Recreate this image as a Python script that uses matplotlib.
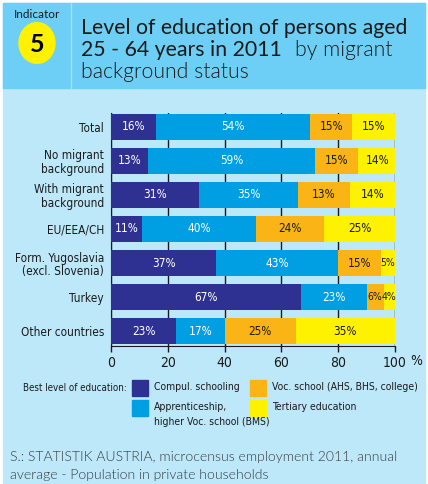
import numpy as np
import matplotlib.pyplot as plt
from matplotlib.patches import Rectangle, Circle

categories = ["Total", "No migrant\nbackground", "With migrant\nbackground", "EU/EEA/CH",
              "Form. Yugoslavia\n(excl. Slovenia)", "Turkey", "Other countries"]
series_names = ["Compul. schooling", "Apprenticeship,\nhigher Voc. school (BMS)",
                "Voc. school (AHS, BHS, college)", "Tertiary education"]
# bar widths as drawn in the chart (percent)
compul = [16, 13, 31, 11, 37, 67, 23]
appren = [54, 59, 35, 40, 43, 23, 17]
voc = [15, 15, 18, 24, 15, 6, 25]
tertiary = [15, 14, 16, 25, 5, 4, 35]
# labels as printed on the bars
lab_compul = ["16%", "13%", "31%", "11%", "37%", "67%", "23%"]
lab_appren = ["54%", "59%", "35%", "40%", "43%", "23%", "17%"]
lab_voc = ["15%", "15%", "13%", "24%", "15%", "6%", "25%"]
lab_tertiary = ["15%", "14%", "14%", "25%", "5%", "4%", "35%"]
xticks = [0, 20, 40, 60, 80, 100]

colors = ["#2e3192", "#009fe3", "#fbb415", "#fff200"]
txt_colors = ["white", "white", "#1a1a1a", "#1a1a1a"]
header_c = "#6dcff6"
bg_c = "#bde8fa"

narrow = dict(family="DejaVu Sans", stretch="condensed")
title_f = "Lato"

fig = plt.figure(figsize=(4.28, 4.84), dpi=100)
W, H = 428, 484


def fx(px):
    return px / W


def fy(py):
    return 1 - py / H


fig.patches.append(Rectangle((fx(3), 0), fx(422), fy(3), transform=fig.transFigure,
                             color=bg_c, zorder=-3))
fig.patches.append(Rectangle((fx(3), fy(88)), fx(422), fy(3) - fy(88), transform=fig.transFigure,
                             color=header_c, zorder=-2))
fig.lines.append(plt.Line2D([fx(71), fx(71)], [fy(88), fy(3)], transform=fig.transFigure,
                            color="#a8e0f7", lw=1, zorder=-1))
fig.patches.append(Circle((fx(37), fy(43)), 18 / W, transform=fig.transFigure,
                          color="#fff200", zorder=-1))
fig.text(fx(37), fy(14), "Indicator", ha="center", va="center", fontsize=8.5,
         family=title_f, color="#1a1a1a")
fig.text(fx(37), fy(44), "5", ha="center", va="center", fontsize=18,
         family=title_f, fontweight="bold", color="black")
tsize = 15.3
fig.text(fx(81), fy(28), "Level of education of persons aged", ha="left", va="center",
         fontsize=tsize, family=title_f, color="#1a1a1a")
fig.text(fx(81), fy(50), "25 - 64 years in 2011", ha="left", va="center",
         fontsize=tsize, family=title_f, color="#1a1a1a")
fig.text(fx(295), fy(50), "by migrant", ha="left", va="center",
         fontsize=tsize, family=title_f, fontweight=300, color="#1a1a1a")
fig.text(fx(81), fy(72), "background status", ha="left", va="center",
         fontsize=tsize, family=title_f, fontweight=300, color="#1a1a1a")

ax = fig.add_axes([fx(111), fy(346), fx(395) - fx(111), fy(113) - fy(346)])
ax.set_facecolor("none")
y = np.arange(len(categories))
data = [compul, appren, voc, tertiary]
labels = [lab_compul, lab_appren, lab_voc, lab_tertiary]
left = np.zeros(len(categories))
for vals, labs, c, tc in zip(data, labels, colors, txt_colors):
    vals = np.array(vals, dtype=float)
    ax.barh(y, vals, left=left, height=0.74, color=c, zorder=3)
    for yi, (l, v, s) in enumerate(zip(left, vals, labs)):
        ax.text(l + v / 2, yi, s, ha="center", va="center", color=tc,
                fontsize=8.5 if v > 8 else 7.5, zorder=4, **narrow)
    left += vals

ax.set_xlim(0, 100)
ax.set_ylim(6.44, -0.41)
ax.set_xticks(xticks)
ax.set_xticklabels([str(t) for t in xticks], fontsize=10, color="#1a1a1a", **narrow)
ax.annotate("%", xy=(100, 0), xycoords=("data", "axes fraction"), xytext=(15, -10.5),
            textcoords="offset points", ha="center", va="center",
            fontsize=10, color="#1a1a1a", **narrow)
ax.set_yticks(y)
ax.set_yticklabels(categories, fontsize=8.5, color="#1a1a1a", linespacing=1.05, **narrow)
ax.tick_params(axis="y", length=0, pad=5)
ax.tick_params(axis="x", length=4, width=1, color="#1a1a1a", pad=3)
ax.grid(axis="x", color="#1a1a1a", lw=1, zorder=1)
for s in ["top", "right"]:
    ax.spines[s].set_visible(False)
ax.spines["left"].set_color("#1a1a1a")
ax.spines["bottom"].set_color("#1a1a1a")

# legend
fig.text(fx(127), fy(388), "Best level of education:", ha="right", va="center",
         fontsize=7, color="#1a1a1a", **narrow)
leg_pos = [(132, 380), (132, 400), (250, 380), (250, 400)]
for (px, py), c, name in zip(leg_pos, colors, series_names):
    fig.patches.append(Rectangle((fx(px), fy(py + 16)), 16 / W, 16 / H,
                                 transform=fig.transFigure, color=c, zorder=3))
    fig.text(fx(px + 22), fy(py + 2), name, ha="left", va="top", fontsize=7.5,
             color="#1a1a1a", linespacing=1.65, **narrow)

fig.text(fx(10), fy(457), "S.: STATISTIK AUSTRIA, microcensus employment 2011, annual",
         ha="left", va="center", fontsize=10.1, family=title_f, fontweight=300, color="#3a3a3a")
fig.text(fx(10), fy(475), "average - Population in private households",
         ha="left", va="center", fontsize=10.1, family=title_f, fontweight=300, color="#3a3a3a")

fig.savefig("out.png", dpi=100)
